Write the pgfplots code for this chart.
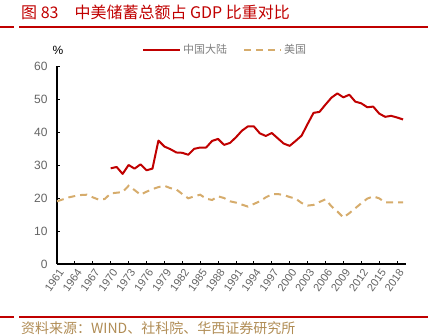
\documentclass[border=0pt]{standalone}
\usepackage{fontspec}
\setmainfont{Liberation Sans}
\newfontfamily\cjk{Noto Sans CJK SC}
\usepackage{pgfplots}
\pgfplotsset{compat=1.18}
\definecolor{cnred}{RGB}{192,0,0}
\definecolor{ustan}{RGB}{214,172,108}
\definecolor{txtgray}{RGB}{100,100,100}
\definecolor{leggray}{RGB}{128,128,128}
\definecolor{srcbrown}{RGB}{176,140,84}
\begin{document}
\begin{tikzpicture}
\path[use as bounding box] (0pt,0pt) rectangle (438pt,-334pt);
\node[anchor=west, text=cnred, font=\cjk\fontsize{16}{16}\selectfont, inner sep=0] at (21pt,-12pt) {图 83\hspace{16pt}中美储蓄总额占 GDP 比重对比};
\draw[cnred, line width=2pt] (0pt,-27pt) -- (14pt,-27pt);
\draw[cnred, line width=2pt] (19pt,-27pt) -- (428pt,-27pt);
\draw[cnred, line width=2pt] (0pt,-317pt) -- (14pt,-317pt);
\draw[cnred, line width=2pt] (19pt,-317pt) -- (428pt,-317pt);
\node[anchor=west, text=srcbrown, font=\cjk\fontsize{14}{14}\selectfont, inner sep=0] at (21pt,-328pt) {资料来源：WIND、社科院、华西证券研究所};
\node[anchor=center, text=black, font=\fontsize{12}{12}\selectfont, inner sep=0] at (58pt,-50pt) {\%};
\begin{axis}[
  at={(57pt,-264pt)}, anchor=south west,
  scale only axis, width=349pt, height=198pt,
  xmin=1961, xmax=2019.5, ymin=0, ymax=60,
  axis x line=bottom, axis y line=left,
  axis line style={-, black, line width=1.1pt},
  xtick={1961,1964,...,2018},
  minor x tick num=2,
  ytick={0,10,...,60},
  tick align=inside,
  major tick length=3pt, minor tick length=3pt,
  every tick/.style={black, line width=0.9pt},
  /pgf/number format/assume math mode=true,
  xticklabel style={/pgf/number format/1000 sep={}, xshift=5pt, yshift=-5pt, rotate=55, anchor=east, font=\fontsize{11}{11}\selectfont, text=txtgray, inner sep=1pt},
  yticklabel style={font=\fontsize{12}{12}\selectfont, text=txtgray, xshift=-6pt},
  legend columns=2,
  legend style={at={(0.243,1.081)}, anchor=west, draw=none, fill=none, inner sep=0pt,
    font=\cjk\fontsize{11}{11}\selectfont, text=leggray,
    /tikz/every even column/.append style={column sep=14pt}},
  legend image code/.code={\draw[#1] (0pt,0pt) -- (37pt,0pt);},
  clip=false,
]
\addplot[cnred, line width=2pt, line join=round] coordinates {
(1970,29.0)(1971,29.4)(1972,27.3)(1973,30.0)(1974,28.9)(1975,30.2)(1976,28.4)(1977,28.9)
(1978,37.4)(1979,35.6)(1980,34.8)(1981,33.8)(1982,33.7)(1983,33.1)(1984,34.9)(1985,35.3)
(1986,35.3)(1987,37.3)(1988,37.9)(1989,36.1)(1990,36.7)(1991,38.4)(1992,40.4)(1993,41.7)
(1994,41.7)(1995,39.6)(1996,38.8)(1997,39.7)(1998,38.1)(1999,36.5)(2000,35.8)(2001,37.3)
(2002,38.9)(2003,42.4)(2004,45.8)(2005,46.1)(2006,48.3)(2007,50.4)(2008,51.7)(2009,50.5)
(2010,51.3)(2011,49.2)(2012,48.7)(2013,47.5)(2014,47.7)(2015,45.6)(2016,44.6)(2017,44.9)
(2018,44.4)(2019,43.8)
};
\addlegendentry{中国大陆}
\addplot[ustan, line width=2pt, dash pattern=on 7pt off 5pt] coordinates {
(1961,19.0)(1962,19.6)(1963,20.2)(1964,20.6)(1965,20.9)(1966,21.0)(1967,20.2)(1968,19.5)
(1969,19.7)(1970,21.4)(1971,21.6)(1972,21.8)(1973,23.7)(1974,22.4)(1975,21.0)(1976,21.9)
(1977,22.7)(1978,23.3)(1979,23.7)(1980,23.0)(1981,22.6)(1982,21.2)(1983,19.9)(1984,20.5)
(1985,21.0)(1986,19.8)(1987,19.4)(1988,20.5)(1989,20.0)(1990,19.0)(1991,18.6)(1992,18.0)
(1993,17.4)(1994,18.2)(1995,19.0)(1996,20.2)(1997,21.1)(1998,21.2)(1999,20.9)(2000,20.3)
(2001,19.8)(2002,18.5)(2003,17.7)(2004,17.9)(2005,18.8)(2006,19.6)(2007,17.5)(2008,15.9)
(2009,14.1)(2010,15.4)(2011,16.9)(2012,18.4)(2013,19.8)(2014,20.5)(2015,19.9)(2016,18.7)
(2017,18.7)(2018,18.7)(2019,18.7)
};
\addlegendentry{美国}
\end{axis}
\end{tikzpicture}
\end{document}
